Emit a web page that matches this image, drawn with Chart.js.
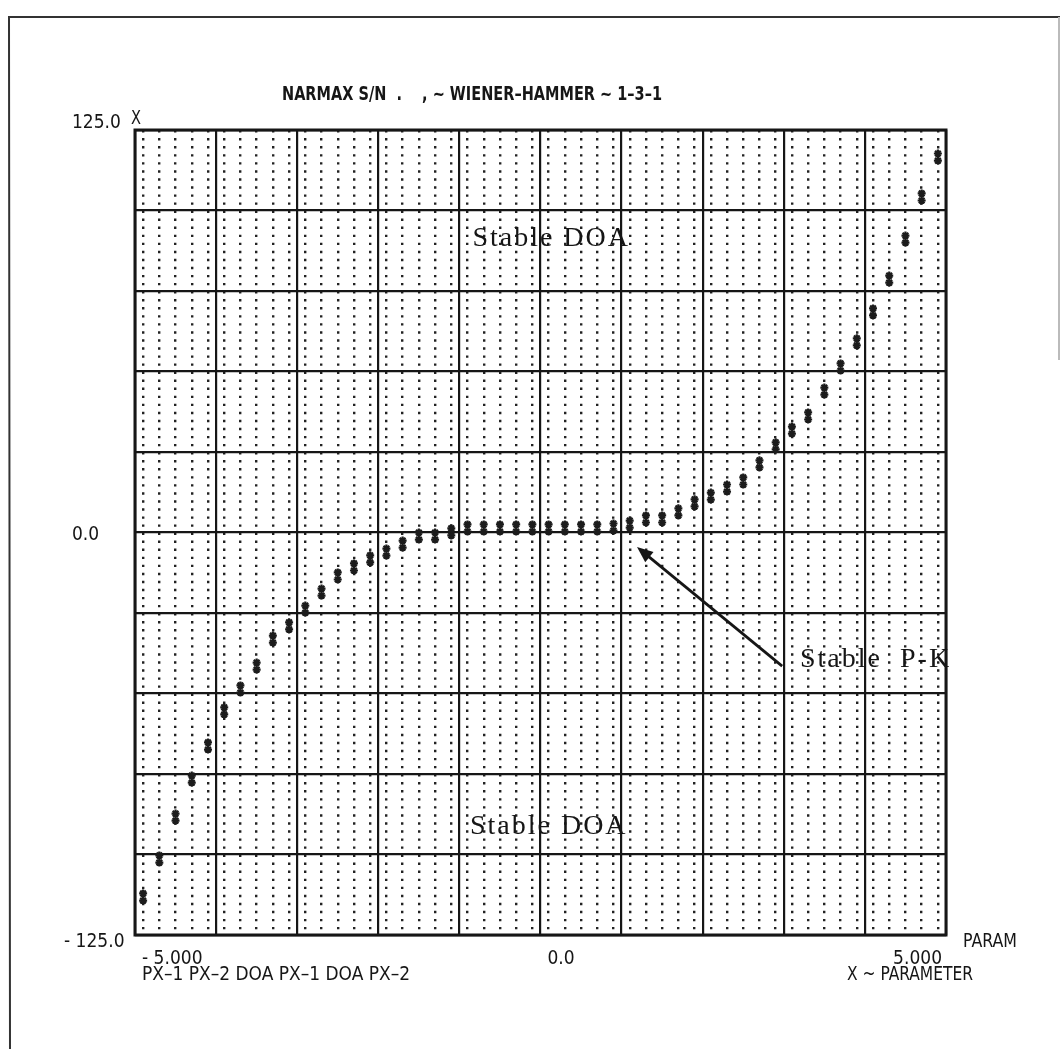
<!DOCTYPE html>
<html>
<head>
<meta charset="utf-8">
<script src="https://cdn.jsdelivr.net/npm/chart.js@4.4.1/dist/chart.umd.min.js"></script>
<style>
  html, body { margin: 0; padding: 0; background: #fff; }
  canvas { display: block; }
</style>
</head>
<body>
<canvas id="grafica" width="1063" height="1049"></canvas>
<script>
// ─── DATOS ────────────────────────────────────────────────────────
const parametro = [-4.9, -4.7, -4.5, -4.3, -4.1, -3.9, -3.7, -3.5, -3.3, -3.1,
  -2.9, -2.7, -2.5, -2.3, -2.1, -1.9, -1.7, -1.5, -1.3, -1.1,
  -0.9, -0.7, -0.5, -0.3, -0.1, 0.1, 0.3, 0.5, 0.7, 0.9,
  1.1, 1.3, 1.5, 1.7, 1.9, 2.1, 2.3, 2.5, 2.7, 2.9,
  3.1, 3.3, 3.5, 3.7, 3.9, 4.1, 4.3, 4.5, 4.7, 4.9]

const px1 = [-112.1, -100.3, -87.3, -75.5, -65.2, -54.3, -47.5, -40.4, -32.0, -27.9,
  -22.7, -17.4, -12.4, -9.6, -7.1, -5.0, -2.5, 0.0, 0.0, 1.3,
  2.5, 2.5, 2.5, 2.5, 2.5, 2.5, 2.5, 2.5, 2.5, 2.8,
  3.7, 5.3, 5.3, 7.5, 10.3, 12.4, 14.9, 17.1, 22.4, 28.0,
  32.9, 37.3, 45.0, 52.5, 60.3, 69.6, 79.8, 92.2, 105.3, 117.7]

const px2 = [-114.3, -102.5, -89.5, -77.7, -67.4, -56.5, -49.7, -42.6, -34.2, -30.1,
  -24.9, -19.6, -14.6, -11.8, -9.3, -7.2, -4.7, -2.2, -2.2, -0.9,
  0.3, 0.3, 0.3, 0.3, 0.3, 0.3, 0.3, 0.3, 0.3, 0.6,
  1.5, 3.1, 3.1, 5.3, 8.1, 10.2, 12.7, 14.9, 20.2, 25.8,
  30.7, 35.1, 42.8, 50.3, 58.1, 67.4, 77.6, 90.0, 103.1, 115.5]

const ticksY = [125, 0, -125]
const etiquetasY = ['125.0', '0.0', '- 125.0']
const ticksX = [-5, 0, 5]
const etiquetasX = ['- 5.000', '0.0', '5.000']

const titulo = 'NARMAX S/N  .    , ~ WIENER\u2013HAMMER ~ 1\u20133\u20131'
const leyenda = 'PX\u20131 PX\u20132 DOA PX\u20131 DOA PX\u20132'

const NEGRO = '#161616'
const PLOTTER = "'Liberation Sans Narrow', 'DejaVu Sans Condensed', sans-serif"
const SERIF = "'Liberation Serif', 'DejaVu Serif', serif"

// ─── TEXTOS, MARCO Y FLECHA ───────────────────────────────────────
const decoracion = {
  id: 'decoracion',
  afterDraw(chart) {
    const { ctx, chartArea: a, scales: { x, y } } = chart
    ctx.save()

    // marco de la hoja
    ctx.strokeStyle = '#333'
    ctx.lineWidth = 2
    ctx.beginPath()
    ctx.moveTo(10, 1049); ctx.lineTo(9, 17); ctx.lineTo(1060, 17)
    ctx.stroke()
    ctx.strokeStyle = '#bbb'
    ctx.beginPath()
    ctx.moveTo(1059, 17); ctx.lineTo(1059, 360)
    ctx.stroke()

    // borde del área
    ctx.strokeStyle = NEGRO
    ctx.lineWidth = 3
    ctx.strokeRect(a.left, a.top, a.right - a.left, a.bottom - a.top)

    ctx.fillStyle = NEGRO
    ctx.textBaseline = 'alphabetic'

    // título
    ctx.font = `bold 20px ${PLOTTER}`
    ctx.textAlign = 'left'
    ctx.fillText(titulo, 282, 100, 380)

    // etiquetas eje Y
    ctx.font = `19px ${PLOTTER}`
    ticksY.forEach((v, i) => {
      const py = y.getPixelForValue(v)
      const dy = v > 0 ? -2 : v < 0 ? 12 : 7
      const ancho = etiquetasY[i].length * 10
      ctx.fillText(etiquetasY[i], v < 0 ? a.left - 71 : a.left - 63, py + dy, ancho)
    })
    ctx.fillText('X', a.left - 4, a.top - 6, 10)
    ctx.fillText('PARAM', a.right + 17, a.bottom + 12, 54)

    // etiquetas eje X
    ticksX.forEach((v, i) => {
      const px = x.getPixelForValue(v)
      const ancho = etiquetasX[i].length * 10
      ctx.textAlign = v >= 5 ? 'right' : 'left'
      ctx.fillText(etiquetasX[i], v >= 5 ? px - 4 : px + 7, a.bottom + 29, ancho)
    })
    ctx.textAlign = 'left'
    ctx.fillText(leyenda, a.left + 7, a.bottom + 45, 268)
    ctx.textAlign = 'right'
    ctx.fillText('X ~ PARAMETER', a.right + 27, a.bottom + 45, 126)

    // anotaciones
    ctx.textAlign = 'left'
    ctx.font = `28px ${SERIF}`
    ctx.letterSpacing = '2px'
    ctx.fillText('Stable DOA', x.getPixelForValue(-0.84), y.getPixelForValue(89))
    ctx.fillText('Stable DOA', x.getPixelForValue(-0.87), y.getPixelForValue(-93.6))
    ctx.fillText('Stable  P-K', x.getPixelForValue(3.2), y.getPixelForValue(-41.8))
    ctx.letterSpacing = '0px'

    // flecha
    const x0 = x.getPixelForValue(2.98), y0 = y.getPixelForValue(-41.5)
    const x1 = x.getPixelForValue(1.19), y1 = y.getPixelForValue(-4.5)
    const ang = Math.atan2(y1 - y0, x1 - x0)
    ctx.strokeStyle = NEGRO
    ctx.lineWidth = 2.8
    ctx.beginPath()
    ctx.moveTo(x0, y0)
    ctx.lineTo(x1 - 10 * Math.cos(ang), y1 - 10 * Math.sin(ang))
    ctx.stroke()
    ctx.beginPath()
    ctx.moveTo(x1, y1)
    ctx.lineTo(x1 - 16 * Math.cos(ang) + 6.5 * Math.sin(ang), y1 - 16 * Math.sin(ang) - 6.5 * Math.cos(ang))
    ctx.lineTo(x1 - 16 * Math.cos(ang) - 6.5 * Math.sin(ang), y1 - 16 * Math.sin(ang) + 6.5 * Math.cos(ang))
    ctx.closePath()
    ctx.fill()

    ctx.restore()
  }
}

// ─── GRÁFICA ──────────────────────────────────────────────────────
function serie(label, valores) {
  return {
    label,
    data: parametro.map((p, i) => ({ x: p, y: valores[i] })),
    pointStyle: 'star',
    radius: 4,
    borderWidth: 2.2,
    borderColor: '#1c1c1c',
    backgroundColor: '#1c1c1c'
  }
}

new Chart(document.getElementById('grafica'), {
  type: 'scatter',
  data: {
    datasets: [serie('PX-1', px1), serie('PX-2', px2)]
  },
  options: {
    responsive: false,
    animation: false,
    devicePixelRatio: 1,
    layout: { padding: { left: 135, top: 130, right: 117, bottom: 114 } },
    plugins: { legend: { display: false }, tooltip: { enabled: false } },
    scales: {
      puntos: {
        type: 'linear',
        position: 'bottom',
        min: -5,
        max: 5,
        afterBuildTicks: s => { s.ticks = parametro.map(v => ({ value: v })) },
        afterFit: s => { s.height = 0 },
        ticks: { display: false },
        grid: { color: '#222', lineWidth: 2.4, drawTicks: false },
        border: { display: false, dash: [2.4, 5.65] }
      },
      x: {
        type: 'linear',
        position: 'bottom',
        min: -5,
        max: 5,
        afterFit: s => { s.height = 0 },
        ticks: { display: false, stepSize: 1 },
        grid: { color: NEGRO, lineWidth: 2.2, drawTicks: false },
        border: { display: false }
      },
      y: {
        type: 'linear',
        min: -125,
        max: 125,
        afterFit: s => { s.width = 0 },
        ticks: { display: false, stepSize: 25 },
        grid: { color: NEGRO, lineWidth: 2.2, drawTicks: false },
        border: { display: false }
      }
    }
  },
  plugins: [decoracion]
})
</script>
</body>
</html>
